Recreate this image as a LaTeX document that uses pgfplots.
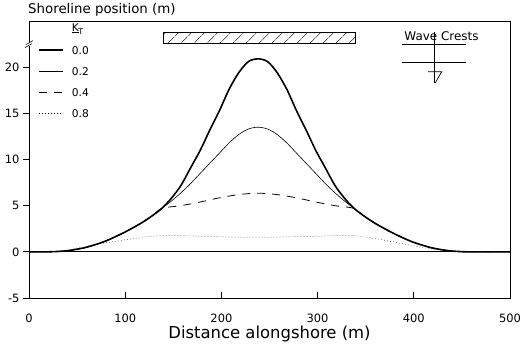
\documentclass[border=0pt]{standalone}
\usepackage{pgfplots}
\pgfplotsset{compat=1.18}
\usepackage{fontspec}
\setmainfont{DejaVu Sans}
\usetikzlibrary{patterns.meta}
\begin{document}
\begin{tikzpicture}
\useasboundingbox (0,0) rectangle (525bp,348bp);
\begin{axis}[
  at={(29bp,50bp)}, anchor=south west,
  scale only axis, width=481bp, height=277bp,
  xmin=0, xmax=500, ymin=-5, ymax=25,
  xtick={0,100,...,500}, ytick={-5,0,5,10,15,20},
  tick pos=left,
  xtick align=inside, ytick align=outside,
  major tick length=6bp,
  axis line style={line width=0.8pt},
  every tick/.style={black, line width=0.7pt},
  /pgf/number format/assume math mode=true,
  ticklabel style={font=\fontsize{11.5}{13}\selectfont},
  xticklabel style={yshift=-12bp},
  xlabel={Distance alongshore (m)},
  xlabel style={at={(rel axis cs:0.5,0)}, anchor=base, yshift=-40bp, inner sep=0pt, font=\fontsize{16.5}{18}\selectfont},
  clip=false,
  legend image code/.code={\draw[#1] (0bp,0bp) -- (24bp,0bp);},
  legend style={draw=none, fill=none, at={(axis cs:9.4,24.56)}, anchor=north west,
    font=\fontsize{10.7}{12}\selectfont, inner sep=0pt, row sep=13bp, column sep=8bp,
    nodes={text height=8bp, text depth=0bp, inner sep=0pt}},
  legend cell align=left,
]
\addlegendimage{empty legend}
\addlegendentry{\raisebox{2bp}{\underline{K}}\kern-0.5bp\raisebox{-1bp}{\fontsize{8}{9}\selectfont T}}
% K = 0.0
\addplot[black, line width=1.6pt, smooth] coordinates {
(0,0) (18,0) (28,0.03) (38,0.1) (48,0.25) (58,0.45) (68,0.75) (78,1.1) (88,1.55)
(98,2.05) (108,2.6) (118,3.2) (128,3.9) (138,4.7) (148,5.8) (158,7.2) (168,9.1)
(178,11.0) (188,13.2) (198,15.3) (208,17.6) (218,19.4) (228,20.6) (238,20.9)
(248,20.6) (258,19.4) (268,17.6) (278,15.3) (288,13.2) (298,11.0) (308,9.1)
(318,7.2) (328,5.8) (338,4.7) (348,3.9) (358,3.2) (368,2.6) (378,2.05) (388,1.55)
(398,1.1) (408,0.75) (418,0.45) (428,0.25) (438,0.1) (448,0.03) (458,0) (500,0)};
\addlegendentry{0.0}
% K = 0.2
\addplot[black, line width=0.6pt, smooth] coordinates {
(0,0) (18,0) (28,0.03) (38,0.1) (48,0.25) (58,0.45) (68,0.75) (78,1.1) (88,1.55)
(98,2.05) (108,2.6) (118,3.2) (128,3.9) (138,4.7) (148,5.5) (158,6.4) (168,7.4)
(178,8.5) (188,9.6) (198,10.7) (208,11.8) (218,12.7) (228,13.3) (238,13.5)
(248,13.3) (258,12.7) (268,11.8) (278,10.7) (288,9.6) (298,8.5) (308,7.4)
(318,6.4) (328,5.5) (338,4.7) (348,3.9) (358,3.2) (368,2.6) (378,2.05) (388,1.55)
(398,1.1) (408,0.75) (418,0.45) (428,0.25) (438,0.1) (448,0.03) (458,0) (500,0)};
\addlegendentry{0.2}
% K = 0.4
\addplot[black, line width=0.8pt, dash pattern=on 8bp off 7bp, smooth] coordinates {
(0,0) (18,0) (28,0.03) (38,0.1) (48,0.25) (58,0.45) (68,0.75) (78,1.1) (88,1.55)
(98,2.05) (108,2.6) (118,3.2) (128,3.9) (138,4.7) (158,5.0) (178,5.4)
(198,5.85) (218,6.2) (238,6.35) (258,6.2) (278,5.85) (298,5.4) (318,5.0)
(338,4.7) (348,3.9) (358,3.2) (368,2.6) (378,2.05) (388,1.55)
(398,1.1) (408,0.75) (418,0.45) (428,0.25) (438,0.1) (448,0.03) (458,0) (500,0)};
\addlegendentry{0.4}
% K = 0.8
\addplot[black, line width=0.5pt, dash pattern=on 0.6bp off 2.4bp, smooth] coordinates {
(0,0) (20,0) (30,0.05) (40,0.2) (50,0.4) (60,0.6) (70,0.8) (80,1.0) (90,1.15)
(100,1.3) (110,1.45) (120,1.6) (130,1.7) (140,1.75) (150,1.78) (170,1.72)
(190,1.65) (210,1.6) (238,1.58) (270,1.62) (300,1.7) (320,1.75) (335,1.78)
(350,1.6) (360,1.45) (370,1.25) (380,1.05) (390,0.85) (400,0.65) (410,0.45)
(420,0.3) (430,0.15) (440,0.05) (450,0) (500,0)};
\addlegendentry{0.8}
% zero line
\addplot[black, line width=0.8pt, forget plot] coordinates {(0,0) (500,0)};
% structure
\draw[line width=0.7pt, pattern={Lines[angle=45, distance=10bp, line width=0.6pt]}]
  (axis cs:139.3,22.61) rectangle (axis cs:338.9,23.8);
% title
\node[anchor=base west, inner sep=0pt, font=\fontsize{13.4}{15}\selectfont]
  at ([xshift=-1bp, yshift=7bp]rel axis cs:0,1) {Shoreline position (m)};
% axis break
\fill[white] ([xshift=-3bp,yshift=-2bp]axis cs:0,22.5) rectangle ([xshift=3bp,yshift=2bp]axis cs:0,22.5);
\draw[line width=0.6pt] ([xshift=-4bp,yshift=-3.5bp]axis cs:0,22.5) -- ([xshift=3bp,yshift=0.5bp]axis cs:0,22.5);
\draw[line width=0.6pt] ([xshift=-3bp,yshift=-0.5bp]axis cs:0,22.5) -- ([xshift=4bp,yshift=3.5bp]axis cs:0,22.5);
% wave crests symbol
\node[anchor=base, inner sep=0pt, font=\fontsize{12}{14}\selectfont] at (axis cs:428.8,22.94) {Wave Crests};
\draw[line width=0.7pt] (axis cs:388.2,22.5) -- (axis cs:454.3,22.5);
\draw[line width=0.7pt] (axis cs:388.2,20.52) -- (axis cs:454.3,20.52);
\draw[line width=0.7pt] (axis cs:421.0,23.84) -- (axis cs:421.0,18.25);
\draw[line width=0.7pt] (axis cs:414.8,19.5) -- (axis cs:429.0,19.5) -- (axis cs:422.0,18.25);
\end{axis}
\end{tikzpicture}
\end{document}
